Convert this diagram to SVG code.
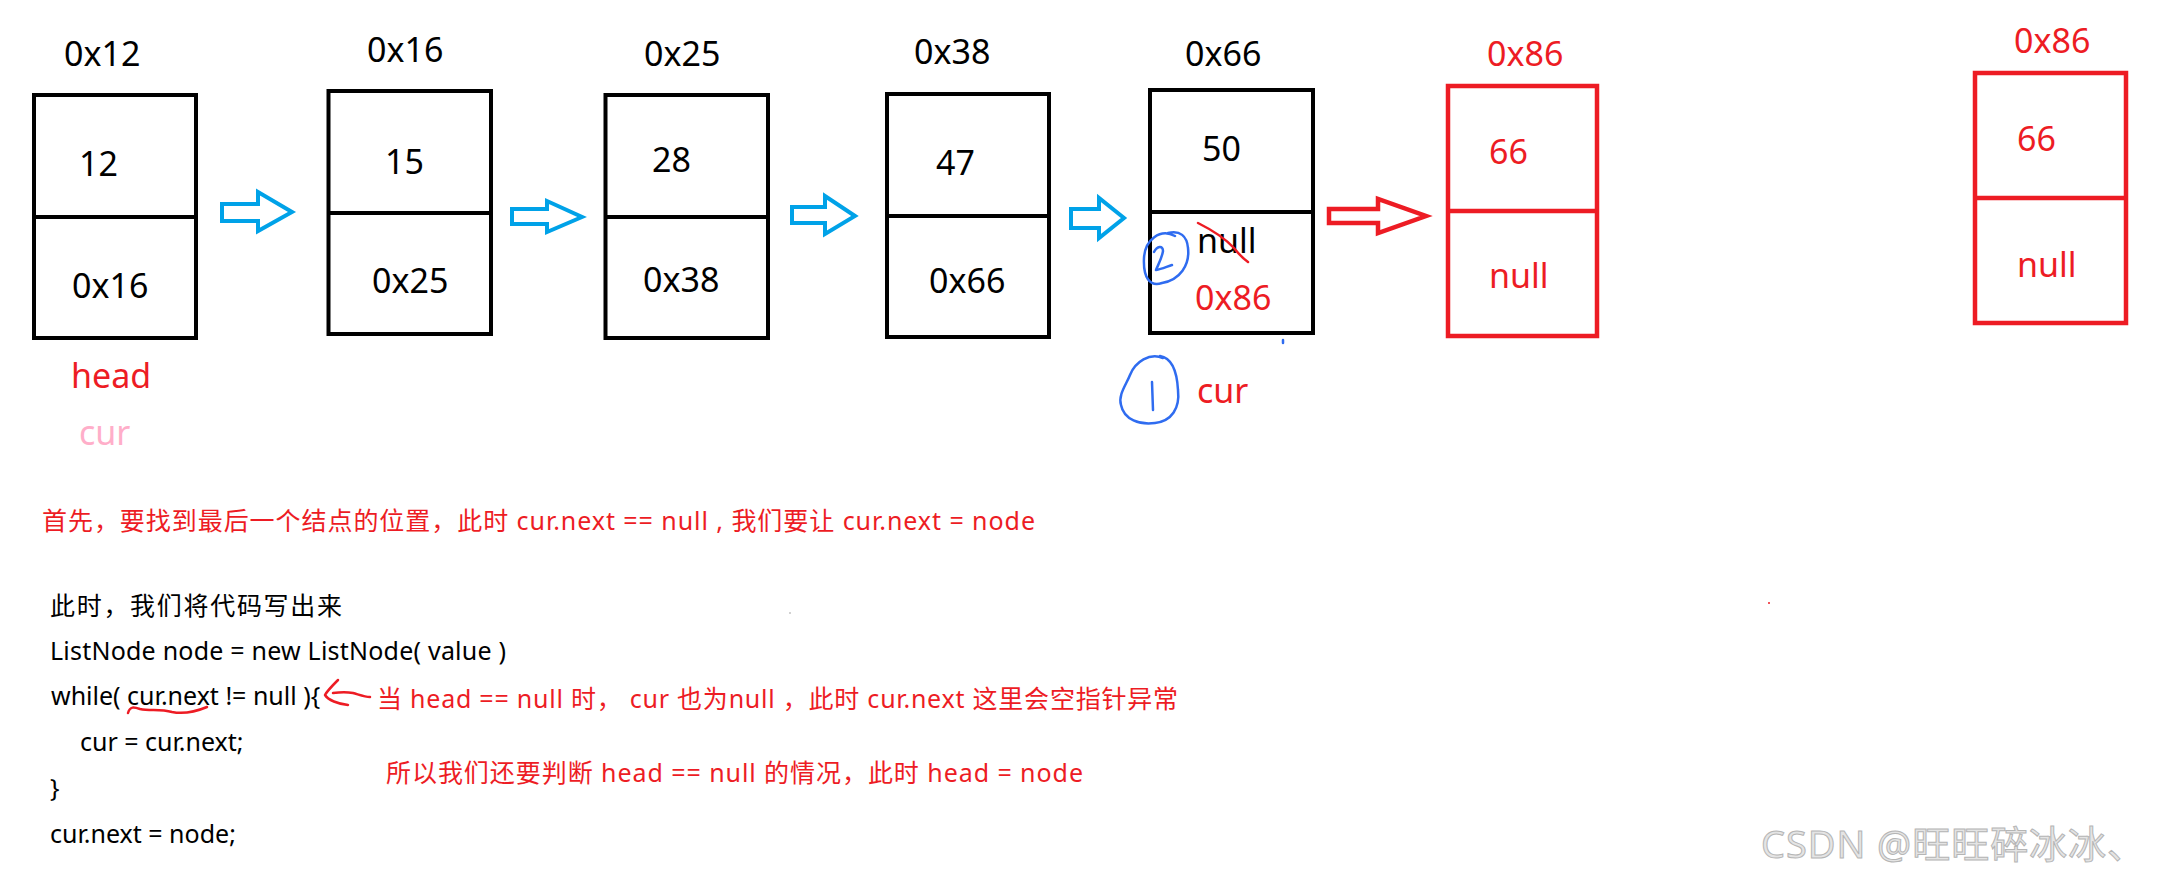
<svg xmlns="http://www.w3.org/2000/svg" width="2178" height="882" viewBox="0 0 2178 882">
<style>
.bx{fill:none;stroke:#000;stroke-width:4}
.rbx{fill:none;stroke:#ed1c24;stroke-width:4.5}
.t{font-family:"Noto Sans","Open Sans","Noto Sans CJK SC",sans-serif;font-size:34px;fill:#000}
.c{font-family:"Noto Sans","Noto Sans CJK SC",sans-serif;font-size:25px;fill:#000}
.ba{fill:none;stroke:#00a2e8;stroke-width:4;stroke-linejoin:miter}
.ra{fill:none;stroke:#ed1c24;stroke-width:4.5;stroke-linejoin:miter}
.pen{fill:none;stroke:#2f6cf0;stroke-width:2.5;stroke-linecap:round;stroke-linejoin:round}
.rpen{fill:none;stroke:#ed1c24;stroke-width:2.5;stroke-linecap:round;stroke-linejoin:round}
.wm{font-family:"Noto Sans","Noto Sans CJK SC",sans-serif;font-size:38px;fill:#e4e4e4;stroke:#b5b5b5;stroke-width:1}
text.r{fill:#ed1c24}
text.pk{fill:#ffaec9}
</style>
<rect width="2178" height="882" fill="#fff"/>

<g id="node-0x12">
<text class="t" x="64" y="66">0x12</text>
<rect class="bx" x="34" y="95" width="162" height="243"/>
<line class="bx" x1="34" y1="217" x2="196" y2="217"/>
<text class="t" x="79" y="176">12</text>
<text class="t" x="72" y="298">0x16</text>
<text class="t r" x="71" y="388">head</text>
<text class="t pk" x="79" y="445">cur</text>
</g>

<g id="node-0x16">
<text class="t" x="367" y="62">0x16</text>
<rect class="bx" x="328.5" y="91" width="162.5" height="243"/>
<line class="bx" x1="328.5" y1="213" x2="491" y2="213"/>
<text class="t" x="385" y="174">15</text>
<text class="t" x="372" y="293">0x25</text>
</g>

<g id="node-0x25">
<text class="t" x="644" y="66">0x25</text>
<rect class="bx" x="605.5" y="95" width="162.5" height="243"/>
<line class="bx" x1="605.5" y1="217" x2="768" y2="217"/>
<text class="t" x="652" y="172">28</text>
<text class="t" x="643" y="292">0x38</text>
</g>

<g id="node-0x38">
<text class="t" x="914" y="64">0x38</text>
<rect class="bx" x="887" y="94" width="162" height="243"/>
<line class="bx" x1="887" y1="216" x2="1049" y2="216"/>
<text class="t" x="936" y="175">47</text>
<text class="t" x="929" y="293">0x66</text>
</g>

<g id="node-0x66">
<text class="t" x="1185" y="66">0x66</text>
<rect class="bx" x="1150" y="90" width="163" height="243"/>
<line class="bx" x1="1150" y1="212" x2="1313" y2="212"/>
<text class="t" x="1202" y="161">50</text>
<text class="t" x="1197" y="253">null</text>
<path class="rpen" d="M1198,223 Q1222,235 1234,248 Q1241,257 1248,262"/>
<text class="t r" x="1195" y="310">0x86</text>
<path class="pen" d="M1175,236 C1160,228 1145,240 1144,258 C1143,278 1150,287 1162,283 C1180,280 1190,265 1188,248 C1187,236 1180,230 1168,233"/>
<path class="pen" d="M1154,252 C1157,246 1163,245 1163,251 C1162,258 1158,265 1156,270 C1162,269 1168,266 1172,265"/>
<line class="pen" x1="1283" y1="340" x2="1283" y2="343"/>
<path class="pen" d="M1163,358 C1150,352 1135,362 1130,375 C1126,385 1118,395 1121,405 C1124,420 1140,425 1155,423 C1172,421 1180,408 1178,390 C1177,372 1172,358 1160,356"/>
<line class="pen" x1="1152" y1="382" x2="1153" y2="410"/>
<text class="t r" x="1197" y="403">cur</text>
</g>

<g id="node-0x86-linked">
<text class="t r" x="1487" y="66">0x86</text>
<rect class="rbx" x="1448" y="86" width="149" height="250"/>
<line class="rbx" x1="1448" y1="211" x2="1597" y2="211"/>
<text class="t r" x="1489" y="164">66</text>
<text class="t r" x="1489" y="288">null</text>
</g>

<g id="node-0x86-new">
<text class="t r" x="2014" y="53">0x86</text>
<rect class="rbx" x="1975" y="73" width="151" height="250"/>
<line class="rbx" x1="1975" y1="198" x2="2126" y2="198"/>
<text class="t r" x="2017" y="151">66</text>
<text class="t r" x="2017" y="277">null</text>
</g>

<g id="connectors">
<polygon class="ba" points="222,204 258,204 258,192 292,212 258,231 258,221 222,221"/>
<polygon class="ba" points="512,209 547,209 547,201 582,217 547,232 547,224 512,224"/>
<polygon class="ba" points="792,207 825,207 825,196 855,216 825,234 825,223 792,223"/>
<polygon class="ba" points="1071,209 1099,209 1099,198 1124,218 1099,238 1099,228 1071,228"/>
<polygon class="ra" points="1329,209 1378,209 1378,199 1426,216 1378,233 1378,223 1329,223"/>
</g>

<g id="notes">
<text class="c r" x="42" y="530" textLength="993">首先，要找到最后一个结点的位置，此时 cur.next == null , 我们要让 cur.next = node</text>
<text class="c" x="50" y="615" textLength="292">此时，我们将代码写出来</text>
<text class="c" x="50" y="660" textLength="456">ListNode node = new ListNode( value )</text>
<text class="c" x="51" y="705">while( cur.next != null ){</text>
<text class="c" x="80" y="751">cur = cur.next;</text>
<text class="c" x="50" y="797">}</text>
<text class="c" x="50" y="843">cur.next = node;</text>
<path class="rpen" d="M128,713 C130,706 134,707 140,709 C150,711 160,709 172,712 C182,714 195,712 207,707"/>
<path class="rpen" d="M338,680 C332,686 327,691 325,695 C328,700 338,704 348,705"/>
<path class="rpen" d="M333,693 C340,692 348,692 353,693 C360,695 365,697 370,697"/>
<text class="c r" x="377" y="708" textLength="801">当 head == null 时，  cur 也为null ，此时 cur.next 这里会空指针异常</text>
<text class="c r" x="386" y="782" textLength="697">所以我们还要判断 head == null 的情况，此时 head = node</text>
<circle cx="790" cy="613" r="0.8" fill="#999"/>
<circle cx="1769" cy="603" r="1" fill="#ed1c24"/>
</g>

<text class="wm" x="1761" y="858" textLength="384">CSDN @旺旺碎冰冰、</text>
</svg>
